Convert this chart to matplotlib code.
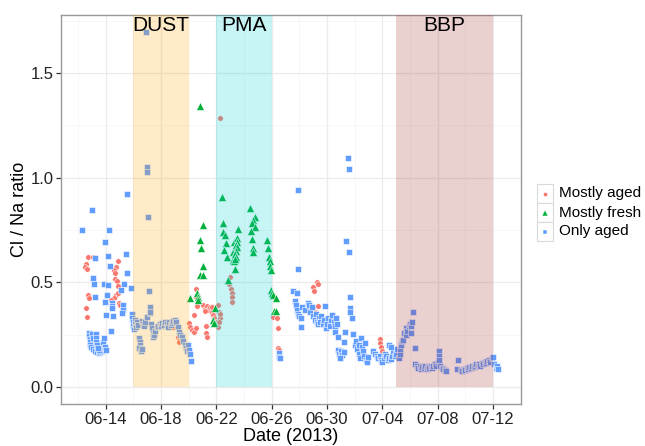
import numpy as np
import pandas as pd
import matplotlib
matplotlib.use("Agg")
import matplotlib.pyplot as plt
from matplotlib.lines import Line2D
from matplotlib.patches import Rectangle
from matplotlib.ticker import MultipleLocator, FormatStrFormatter

plt.rcParams["font.family"] = ["Liberation Sans", "DejaVu Sans"]

# sample time is given as fractional day counted from 31 May 2013 (32.0 = 2 July)
mostly_aged = [
    (12.7, 0.62), (13.06, 0.623), (12.58, 0.59), (12.5, 0.572), (12.64, 0.562),
    (14.87, 0.602), (14.77, 0.572), (14.62, 0.559), (14.69, 0.546), (14.67, 0.515),
    (14.82, 0.508), (14.91, 0.483), (12.7, 0.44), (12.81, 0.424), (14.74, 0.44),
    (14.91, 0.448), (14.62, 0.424), (14.38, 0.416), (14.98, 0.403), (15.06, 0.392),
    (12.6, 0.376), (12.65, 0.333),
    (18.89, 0.288), (19.25, 0.24), (19.3, 0.216),
    (20.55, 0.468), (20.51, 0.432), (20.58, 0.387), (20.38, 0.344), (20.0, 0.304),
    (20.1, 0.288), (20.22, 0.272), (20.41, 0.264), (20.51, 0.28), (21.06, 0.39),
    (21.2, 0.375), (21.3, 0.385), (21.4, 0.37), (21.54, 0.38), (21.15, 0.365),
    (21.25, 0.293), (21.23, 0.26), (21.3, 0.24), (21.66, 0.36), (21.75, 0.345),
    (21.85, 0.33), (21.95, 0.31), (22.05, 0.3), (22.14, 0.288), (22.14, 0.392),
    (21.7, 0.38), (22.2, 0.36), (22.25, 0.33), (22.3, 0.35), (22.2, 0.31),
    (22.29, 1.285), (23.0, 0.527), (22.95, 0.49), (23.05, 0.47), (23.1, 0.45),
    (23.12, 0.43), (23.15, 0.408),
    (26.1, 0.336), (26.4, 0.328), (26.44, 0.283), (26.48, 0.185), (26.52, 0.175),
    (29.0, 0.479), (29.05, 0.46), (29.3, 0.503), (29.35, 0.49), (28.97, 0.384),
    (29.37, 0.387), (28.77, 0.392), (28.6, 0.37), (29.1, 0.36), (29.6, 0.33),
    (29.8, 0.32),
    (33.8, 0.23), (33.85, 0.21), (33.9, 0.19), (33.95, 0.17),
]

mostly_fresh = [
    (20.8, 1.343), (22.43, 0.909), (21.01, 0.776), (20.84, 0.702), (20.89, 0.666),
    (21.06, 0.58), (20.82, 0.535), (21.06, 0.535), (20.1, 0.427), (20.62, 0.448),
    (20.66, 0.432), (20.7, 0.416), (21.9, 0.376), (21.74, 0.32), (21.85, 0.304),
    (22.5, 0.782), (22.5, 0.742), (22.63, 0.726), (22.68, 0.686), (22.58, 0.655),
    (22.75, 0.62), (23.23, 0.647), (23.3, 0.694), (23.23, 0.607), (22.87, 0.511),
    (24.43, 0.854), (24.8, 0.811), (24.67, 0.798), (24.56, 0.782), (24.8, 0.766),
    (24.48, 0.747), (23.59, 0.753), (23.47, 0.71), (23.52, 0.694), (23.42, 0.678),
    (23.5, 0.67), (23.4, 0.65), (23.35, 0.635), (23.45, 0.62), (23.3, 0.6),
    (23.38, 0.61), (24.56, 0.707), (24.63, 0.663), (24.63, 0.647), (23.35, 0.562),
    (25.69, 0.702), (25.71, 0.663), (25.8, 0.62), (25.85, 0.6), (25.9, 0.58),
    (25.95, 0.559), (25.95, 0.463), (26.05, 0.45), (26.1, 0.44), (26.3, 0.424),
    (26.2, 0.363), (26.3, 0.363),
]

only_aged = [
    # isolated high values
    (12.31, 0.75), (13.01, 0.846), (15.52, 0.922), (16.91, 1.696), (17.0, 1.053),
    (17.0, 1.029), (17.08, 0.81), (27.9, 0.941), (31.54, 1.096), (31.59, 1.042),
    (31.38, 0.698), (31.59, 0.647), (27.9, 0.562),
    # 12-16 June
    (14.22, 0.749), (13.93, 0.691), (15.45, 0.637), (14.17, 0.626), (13.2, 0.615),
    (14.31, 0.577), (15.54, 0.545), (13.1, 0.522), (13.13, 0.491), (13.9, 0.49),
    (14.14, 0.486), (15.34, 0.491), (15.85, 0.474), (15.1, 0.463), (13.2, 0.429),
    (14.09, 0.438), (13.95, 0.408), (14.43, 0.40), (14.43, 0.388), (14.45, 0.378),
    (15.25, 0.392), (15.23, 0.368), (14.02, 0.344), (14.55, 0.339), (15.18, 0.352),
    (15.88, 0.344), (14.36, 0.269),
    (12.8, 0.26), (12.82, 0.245), (12.85, 0.23), (12.88, 0.215), (12.9, 0.2),
    (12.95, 0.19), (13.02, 0.255), (13.05, 0.235), (13.1, 0.18), (13.2, 0.172),
    (13.3, 0.255), (13.3, 0.235), (13.32, 0.215), (13.35, 0.2), (13.4, 0.168),
    (13.5, 0.163), (13.6, 0.165), (13.7, 0.17), (13.75, 0.185), (13.8, 0.2),
    (13.82, 0.215), (13.85, 0.232), (13.55, 0.178), (13.45, 0.185), (13.92, 0.19),
    (14.0, 0.175),
    # 16-20 June
    (15.9, 0.35), (15.92, 0.33), (15.95, 0.31), (15.98, 0.29), (16.02, 0.275),
    (16.1, 0.32), (16.15, 0.3), (16.2, 0.285), (16.3, 0.31), (16.35, 0.295),
    (16.4, 0.235), (16.45, 0.215), (16.5, 0.2), (16.42, 0.185), (16.55, 0.172),
    (16.62, 0.18), (16.62, 0.315), (16.7, 0.3), (16.78, 0.29), (16.85, 0.31),
    (17.0, 0.336), (17.2, 0.355), (17.18, 0.381), (17.18, 0.36), (17.13, 0.459),
    (17.3, 0.3), (17.35, 0.28), (17.4, 0.26), (17.45, 0.24), (17.5, 0.25),
    (17.6, 0.27), (17.7, 0.285), (17.8, 0.29), (17.9, 0.3), (18.0, 0.29),
    (18.1, 0.305), (18.2, 0.295), (18.3, 0.31), (18.4, 0.3), (18.5, 0.285),
    (18.6, 0.31), (18.7, 0.295), (18.8, 0.305), (18.9, 0.315), (19.0, 0.32),
    (19.1, 0.31), (19.25, 0.285), (19.3, 0.265), (19.4, 0.25), (19.5, 0.24),
    (19.6, 0.22), (19.7, 0.2), (19.8, 0.185), (19.9, 0.17), (19.95, 0.2),
    (20.0, 0.175), (20.1, 0.16), (20.2, 0.124),
    # 26 June - 4 July
    (26.55, 0.161), (26.55, 0.145), (26.57, 0.137),
    (27.56, 0.459), (27.81, 0.448), (27.7, 0.41), (27.75, 0.39), (27.8, 0.37),
    (27.9, 0.35), (28.0, 0.34), (28.1, 0.33), (28.1, 0.288), (28.2, 0.38),
    (28.4, 0.37), (28.6, 0.4), (28.7, 0.39), (28.8, 0.36), (28.9, 0.38),
    (29.0, 0.34), (29.1, 0.32), (29.2, 0.35), (29.3, 0.31), (29.35, 0.3),
    (29.4, 0.33), (29.5, 0.31), (29.6, 0.34), (29.7, 0.3), (29.8, 0.32),
    (29.86, 0.387), (29.9, 0.28), (30.0, 0.3), (30.1, 0.33), (30.2, 0.29),
    (30.3, 0.32), (30.4, 0.345), (30.5, 0.31), (30.55, 0.29), (30.65, 0.33),
    (30.7, 0.3), (30.58, 0.264), (30.82, 0.24), (31.3, 0.264), (31.25, 0.216),
    (31.64, 0.428), (31.67, 0.376), (31.7, 0.36), (31.83, 0.328), (31.9, 0.253),
    (30.8, 0.175), (30.9, 0.16), (31.0, 0.17), (31.1, 0.155), (31.2, 0.165),
    (30.95, 0.14), (32.0, 0.2), (32.1, 0.22), (32.2, 0.18), (32.3, 0.16),
    (32.35, 0.2), (32.4, 0.14), (32.45, 0.234), (32.5, 0.19), (32.6, 0.17),
    (32.7, 0.15), (32.8, 0.13), (32.9, 0.12), (32.95, 0.145), (32.75, 0.21),
    (33.35, 0.17), (33.45, 0.16), (33.6, 0.15), (33.7, 0.14), (33.8, 0.15),
    (33.9, 0.13), (34.0, 0.12), (34.1, 0.14), (34.2, 0.16), (34.3, 0.15),
    (34.4, 0.13), (34.5, 0.14), (34.6, 0.135), (34.7, 0.15), (34.8, 0.17),
    (34.9, 0.15), (35.0, 0.16), (35.1, 0.18), (34.45, 0.2), (34.65, 0.19),
    # 5-12 July
    (35.2, 0.14), (35.25, 0.16), (35.3, 0.18), (35.35, 0.2), (35.4, 0.22),
    (35.5, 0.225), (35.6, 0.26), (35.7, 0.28), (35.75, 0.25), (35.8, 0.27),
    (35.9, 0.29), (36.0, 0.3), (36.1, 0.29), (36.15, 0.31), (36.24, 0.36),
    (36.05, 0.26), (36.36, 0.185),
    (36.4, 0.11), (36.5, 0.1), (36.6, 0.09), (36.7, 0.1), (36.8, 0.085),
    (36.9, 0.095), (37.0, 0.09), (37.1, 0.1), (37.2, 0.085), (37.3, 0.095),
    (37.4, 0.09), (37.5, 0.1), (37.6, 0.09), (37.7, 0.1), (37.8, 0.11),
    (37.9, 0.1), (38.0, 0.12), (38.1, 0.173), (38.1, 0.15), (38.12, 0.13),
    (38.2, 0.1), (38.3, 0.09), (38.4, 0.085), (38.5, 0.08), (38.6, 0.075),
    (39.5, 0.129), (39.38, 0.086),
    (39.7, 0.08), (39.8, 0.075), (39.9, 0.085), (40.0, 0.08), (40.1, 0.09),
    (40.2, 0.085), (40.3, 0.095), (40.4, 0.09), (40.5, 0.1), (40.6, 0.095),
    (40.7, 0.1), (40.8, 0.11), (40.9, 0.105), (41.0, 0.11), (41.1, 0.1),
    (41.2, 0.115), (41.3, 0.11), (41.4, 0.12), (41.5, 0.115), (41.6, 0.125),
    (41.7, 0.13), (41.8, 0.12), (41.9, 0.14), (42.0, 0.145), (42.1, 0.11),
    (42.2, 0.09), (42.3, 0.1), (42.4, 0.085),
]

event_names = ["DUST", "PMA", "BBP"]
event_start = ["2013-06-16", "2013-06-22", "2013-07-05"]
event_end = ["2013-06-20", "2013-06-26", "2013-07-12"]
event_colors = ["orange", "darkturquoise", "brown"]

series_names = ["Mostly aged", "Mostly fresh", "Only aged"]
series_colors = ["#F8766D", "#00B03A", "#619CFF"]
series_markers = ["o", "^", "s"]
series_sizes = [4.0, 5.6, 4.0]

tick_dates = pd.date_range("2013-06-14", periods=8, freq="4D")
tick_labels = [d.strftime("%m-%d") for d in tick_dates]

base = pd.Timestamp("2013-05-31")


def to_dates(days):
    return base + pd.to_timedelta(np.asarray(days), unit="D")


fig = plt.figure(figsize=(6.45, 4.46), dpi=100)
ax = fig.add_axes([61 / 645, 1 - 404 / 446, 460 / 645, 389 / 446])

ymin, ymax = -0.081, 1.777
ax.set_ylim(ymin, ymax)
ax.set_xlim(to_dates([10.77])[0], to_dates([44.03])[0])

for pts, color, marker, ms in zip([mostly_aged, mostly_fresh, only_aged],
                                  series_colors, series_markers, series_sizes):
    arr = np.array(pts)
    ax.plot(to_dates(arr[:, 0]), arr[:, 1], linestyle="none", marker=marker,
            markersize=ms, color=color, markeredgecolor="white",
            markeredgewidth=0.4, zorder=2)

# shaded episodes sit above the points, as in the original figure
for name, s, e, c in zip(event_names, event_start, event_end, event_colors):
    s, e = pd.Timestamp(s), pd.Timestamp(e)
    ax.fill_between([s, e], 0, ymax, color=c, alpha=0.22, linewidth=0, zorder=3)
    ax.text(s + (e - s) / 2, 1.725, name, ha="center", va="center",
            fontsize=15, color="black", zorder=4)

ax.set_xticks(tick_dates)
ax.set_xticklabels(tick_labels)
ax.set_xticks(pd.date_range("2013-06-12", "2013-07-14", freq="2D"), minor=True)
ax.yaxis.set_major_locator(MultipleLocator(0.5))
ax.yaxis.set_minor_locator(MultipleLocator(0.25))
ax.yaxis.set_major_formatter(FormatStrFormatter("%.1f"))

ax.grid(which="major", color="#ebebeb", linewidth=0.9, zorder=0)
ax.grid(which="minor", color="#f4f4f4", linewidth=0.5, zorder=0)
ax.set_axisbelow(True)

ax.tick_params(which="major", length=3.5, width=0.9, color="#333333",
               labelsize=12, labelcolor="#222222", pad=2)
ax.tick_params(which="minor", length=0)
for sp in ax.spines.values():
    sp.set_color("#999999")
    sp.set_linewidth(1.0)

ax.set_xlabel("Date (2013)", fontsize=13, labelpad=1)
ax.set_ylabel("Cl / Na ratio", fontsize=13)
ax.yaxis.set_label_coords(-0.071, 0.5)

# legend drawn by hand to get the boxed keys
W, H = 645, 446
rows = [193.5, 212.5, 231.5]
for y, name, color, marker, ms in zip(rows, series_names, series_colors,
                                      series_markers, [3.0, 4.0, 3.0]):
    fig.add_artist(Rectangle(((537) / W, 1 - (y + 9.5) / H), 16 / W, 19 / H,
                             transform=fig.transFigure, facecolor="white",
                             edgecolor="#d9d9d9", linewidth=0.8))
    fig.add_artist(Line2D([545 / W], [1 - y / H], transform=fig.transFigure,
                          marker=marker, markersize=ms, color=color,
                          markeredgecolor="white", markeredgewidth=0.35,
                          linestyle="none"))
    fig.text(559 / W, 1 - y / H, name, fontsize=11, va="center", ha="left")

fig.savefig("out.png", dpi=100)
